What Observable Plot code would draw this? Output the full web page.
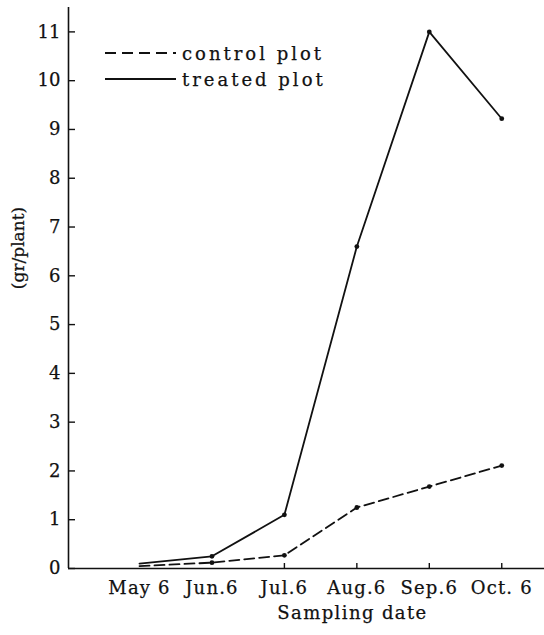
<!DOCTYPE html>
<html>
<head>
<meta charset="utf-8">
<script src="https://cdn.jsdelivr.net/npm/d3@7"></script>
<script src="https://cdn.jsdelivr.net/npm/@observablehq/plot@0.6"></script>
<style>
  body { margin: 0; background: #fff; }
  #wrap { position: relative; width: 544px; height: 635px; }
  #legend { position: absolute; left: 105px; top: 40px; font-family: "DejaVu Serif", serif; font-size: 18px; color: #111; }
  #legend .row { display: flex; align-items: center; height: 26px; }
  #legend .row span { margin-left: 6px; letter-spacing: 3px; }
  svg g[aria-label="x-axis tick label"] text { letter-spacing: 1.2px; }
  svg text { stroke: #111; stroke-width: 0.25px; }
</style>
</head>
<body>
<div id="wrap"></div>
<script>
const dates = ["May 6", "Jun.6", "Jul.6", "Aug.6", "Sep.6", "Oct. 6"];
const control = [0.05, 0.12, 0.27, 1.25, 1.68, 2.11];
const treated = [0.1, 0.25, 1.1, 6.6, 11.0, 9.22];
const yTicks = [0, 1, 2, 3, 4, 5, 6, 7, 8, 9, 10, 11];
const tickedDates = ["Jul.6", "Aug.6", "Sep.6", "Oct. 6"];
const seriesNames = ["control plot", "treated plot"];
const xLabel = "Sampling date";
const yLabel = "(gr/plant)";

const rows = dates.map((d, i) => ({i, date: d, control: control[i], treated: treated[i]}));
const xDomain = [-0.98, 5.59];

const chart = Plot.plot({
  width: 544,
  height: 635,
  marginLeft: 68,
  marginRight: 0,
  marginTop: 7,
  marginBottom: 67,
  x: {domain: xDomain},
  y: {domain: [0, 11.5]},
  style: {fontFamily: "DejaVu Serif", fontSize: "18px", color: "#111", background: "white"},
  marks: [
    Plot.ruleX([xDomain[0]], {strokeWidth: 1.6}),
    Plot.ruleY([0], {strokeWidth: 1.6}),
    Plot.axisY({ticks: yTicks, tickSize: -7, tickPadding: 15, tickFormat: d => d, label: null, strokeWidth: 1.4, fontSize: 18}),
    Plot.axisX({ticks: tickedDates.map(d => dates.indexOf(d)), tickSize: -5, tickFormat: () => "", label: null, strokeWidth: 1.4}),
    Plot.axisX({ticks: d3.range(dates.length), tickSize: 0, tickPadding: 13, tickFormat: i => dates[i], label: null, fontSize: 18}),
    Plot.text([xLabel], {frameAnchor: "bottom", dx: 46, dy: 50, fontSize: 18}),
    Plot.text([yLabel], {frameAnchor: "left", textAnchor: "middle", rotate: -90, dx: -50, dy: -40, fontSize: 17}),
    Plot.line(rows, {x: "i", y: "control", stroke: "#111", strokeWidth: 1.8, strokeDasharray: "10,5"}),
    Plot.line(rows, {x: "i", y: "treated", stroke: "#111", strokeWidth: 1.8}),
    Plot.dot(rows.filter(r => r.i > 0), {x: "i", y: "control", r: 2.4, fill: "#111"}),
    Plot.dot(rows.filter(r => r.i > 0), {x: "i", y: "treated", r: 2.4, fill: "#111"})
  ]
});

chart.querySelectorAll("text").forEach(t => {
  if (t.textContent === xLabel) t.style.letterSpacing = "1.4px";
});

const wrap = document.getElementById("wrap");
wrap.appendChild(chart);

const legend = document.createElement("div");
legend.id = "legend";
const dashes = ["11,6", null];
seriesNames.forEach((name, k) => {
  const row = document.createElement("div");
  row.className = "row";
  row.innerHTML = `<svg width="71" height="6"><line x1="0" y1="3" x2="71" y2="3" stroke="#111" stroke-width="1.8"${dashes[k] ? ` stroke-dasharray="${dashes[k]}"` : ""}></line></svg><span style="-webkit-text-stroke:0.25px #111">${name}</span>`;
  legend.appendChild(row);
});
wrap.appendChild(legend);
</script>
</body>
</html>
